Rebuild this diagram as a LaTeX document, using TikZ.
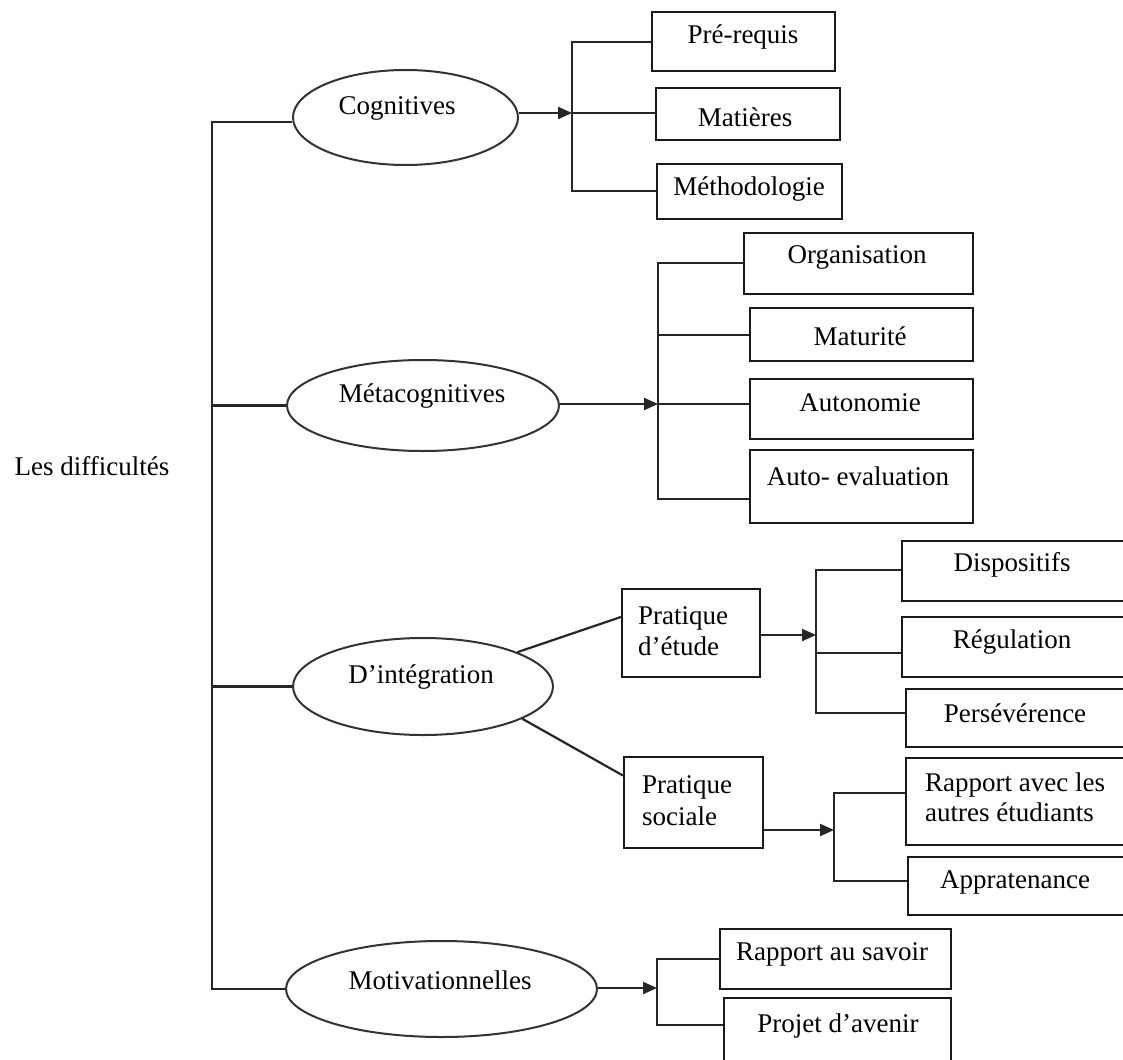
\documentclass[tikz,border=0pt]{standalone}
\usepackage{fontspec}
\setmainfont{Liberation Serif}
\usetikzlibrary{shapes.geometric,arrows.meta}
\begin{document}
\begin{tikzpicture}[x=1pt,y=-1pt,
  every node/.style={font=\fontsize{27}{31}\selectfont, inner sep=0pt},
  line/.style={line width=2.2pt, draw=black!85},
  oval/.style={ellipse, draw=black!80, line width=2pt, inner sep=0pt},
  bx/.style={rectangle, draw=black!90, line width=2.2pt, inner sep=0pt},
  arr/.style={line, -{Triangle[length=14pt,width=12pt]}},
  lbl/.style={text=black}]
\useasboundingbox (0,0) rectangle (1123,1059);
\fill[white] (0,0) rectangle (1123,1059);
\clip (0,0) rectangle (1123,1059);

% root label
\node[lbl] (les) at (92,466) {Les difficultés};

% ellipses
\node[oval, minimum width=225pt, minimum height=95pt] (cog) at (405.5,117.5) {};
\node[lbl] (cogt) at (397,108) {Cognitives};
\node[oval, minimum width=272pt, minimum height=91pt] (meta) at (423,405.5) {};
\node[lbl] (metat) at (422,396) {Métacognitives};
\node[oval, minimum width=260pt, minimum height=97pt] (integ) at (423,686.5) {};
\node[lbl] (integt) at (421,677) {D’intégration};
\node[oval, minimum width=311pt, minimum height=96pt] (mot) at (441.5,989) {};
\node[lbl] (mott) at (440,980) {Motivationnelles};

% cognitive boxes
\node[bx, minimum width=183pt, minimum height=59pt] (pre) at (743.5,41.5) {};
\node[lbl] at (743,37) {Pré-requis};
\node[bx, minimum width=184pt, minimum height=52pt] (mat) at (748,114) {};
\node[lbl] at (745,117) {Matières};
\node[bx, minimum width=185pt, minimum height=55pt] (meth) at (749.5,191.5) {};
\node[lbl] at (749,189) {Méthodologie};

% metacognitive boxes
\node[bx, minimum width=229pt, minimum height=61pt] (org) at (858.5,263.5) {};
\node[lbl] at (857,257) {Organisation};
\node[bx, minimum width=223pt, minimum height=53pt] (matu) at (861.5,334.5) {};
\node[lbl] at (860,336) {Maturité};
\node[bx, minimum width=223pt, minimum height=60pt] (auto) at (861.5,409) {};
\node[lbl] at (860,403) {Autonomie};
\node[bx, minimum width=223pt, minimum height=73pt] (autoev) at (861.5,486.5) {};
\node[lbl] at (858,476) {Auto- evaluation};

% integration boxes
\node[bx, minimum width=138pt, minimum height=88pt] (pe) at (691,633) {};
\node[lbl, align=left, anchor=west] at (638,631.5) {Pratique\\d’étude};
\node[bx, minimum width=139pt, minimum height=91pt] (ps) at (693.5,802.5) {};
\node[lbl, align=left, anchor=west, font=\fontsize{27}{32}\selectfont] at (642,801) {Pratique\\sociale};

\node[bx, minimum width=233pt, minimum height=60pt] (disp) at (1018.5,571) {};
\node[lbl] at (1012,565) {Dispositifs};
\node[bx, minimum width=233pt, minimum height=60pt] (reg) at (1018.5,647) {};
\node[lbl] at (1012,642) {Régulation};
\node[bx, minimum width=229pt, minimum height=58pt] (pers) at (1020.5,718) {};
\node[lbl] at (1015,713) {Persévérence};
\node[bx, minimum width=229pt, minimum height=87pt] (rap) at (1020.5,801.5) {};
\node[lbl, align=left, anchor=west, font=\fontsize{27}{30}\selectfont] at (925,797) {Rapport avec les\\autres étudiants};
\node[bx, minimum width=227pt, minimum height=58pt] (app) at (1021.5,886) {};
\node[lbl] at (1015,882) {Appratenance};

% motivational boxes
\node[bx, minimum width=231pt, minimum height=60pt] (ras) at (835.5,959) {};
\node[lbl] at (832,954) {Rapport au savoir};
\node[bx, minimum width=227pt, minimum height=72pt] (proj) at (837.5,1034) {};
\node[lbl] at (838,1026) {Projet d’avenir};

% trunk
\coordinate (ttop) at (212,122);
\coordinate (tbot) at (212,989);
\draw[line] (cog.west |- ttop) -- (ttop) -- (tbot) -- (mot.west);
\draw[line] (meta.west) -- (meta.west -| ttop);
\draw[line] (integ.west) -- (integ.west -| ttop);

% cognitive bracket
\coordinate (cb) at (572,113);
\coordinate (cbt) at (572,42);
\coordinate (cbb) at (572,191);
\draw[line] (pre.west |- cbt) -- (cbt) -- (cbb) -- (meth.west |- cbb);
\draw[line] (cb) -- (mat.west |- cb);
\draw[arr] (cog.east |- cb) -- (cb);

% metacognitive bracket
\coordinate (mb) at (658,404);
\coordinate (mbt) at (658,263);
\coordinate (mbb) at (658,499);
\coordinate (mb2) at (658,335);
\draw[line] (org.west |- mbt) -- (mbt) -- (mbb) -- (autoev.west |- mbb);
\draw[line] (mb2) -- (matu.west |- mb2);
\draw[line] (mb) -- (auto.west |- mb);
\draw[arr] (meta.east |- mb) -- (mb);

% integration
\draw[line] (integ.20) -- ([yshift=16pt]pe.west);
\draw[line] (integ.-18) -- ([yshift=27pt]ps.west);

\coordinate (pb) at (816,635);
\coordinate (pbt) at (816,570);
\coordinate (pbb) at (816,713);
\coordinate (pb2) at (816,653);
\draw[line] (disp.west |- pbt) -- (pbt) -- (pbb) -- (pers.west |- pbb);
\draw[line] (pb2) -- (reg.west |- pb2);
\draw[arr] (pe.east |- pb) -- (pb);

\coordinate (sb) at (834,830);
\coordinate (sbt) at (834,793);
\coordinate (sbb) at (834,881);
\draw[line] (rap.west |- sbt) -- (sbt) -- (sbb) -- (app.west |- sbb);
\draw[arr] (ps.east |- sb) -- (sb);

% motivational bracket
\coordinate (vb) at (657,988);
\coordinate (vbt) at (657,959);
\coordinate (vbb) at (657,1025);
\draw[line] (ras.west |- vbt) -- (vbt) -- (vbb) -- (proj.west |- vbb);
\draw[arr] (mot.east |- vb) -- (vb);
\end{tikzpicture}
\end{document}
